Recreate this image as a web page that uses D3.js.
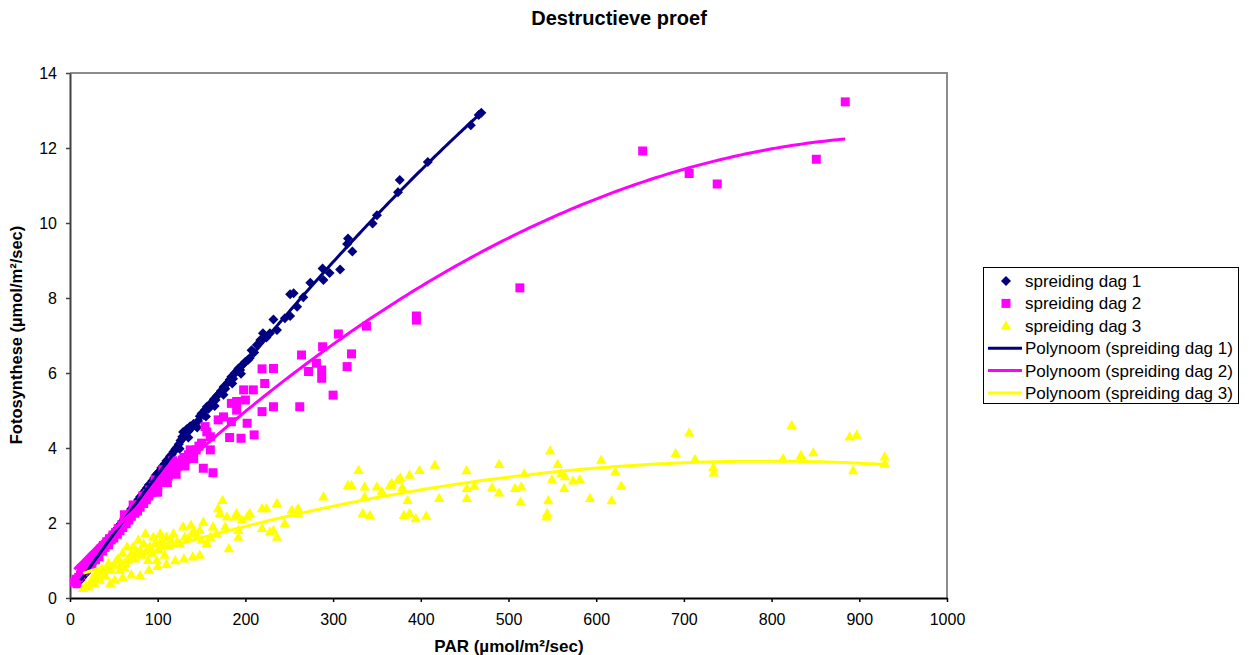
<!DOCTYPE html>
<html>
<head>
<meta charset="utf-8">
<script src="https://cdn.jsdelivr.net/npm/d3@7"></script>
<style>
  html, body { margin: 0; padding: 0; background: #ffffff; }
  svg { display: block; font-family: "Liberation Sans", Arial, sans-serif; }
</style>
</head>
<body>
<svg id="chart" width="1249" height="655"></svg>
<script>
// PAR (x) and photosynthesis (y) measurements per day
const dag1 = [
  [12,0.48],[14,0.55],[16,0.62],[18,0.66],[20,0.74],[22,0.80],[24,0.88],[26,0.93],[28,1.00],[30,1.08],
  [32,1.12],[34,1.20],[36,1.27],[38,1.33],[40,1.40],[42,1.47],[44,1.55],[46,1.60],[48,1.66],[50,1.74],
  [52,1.80],[54,1.86],[56,1.93],[58,1.98],[60,2.05],[62,2.12],[64,2.17],[66,2.25],[68,2.30],[70,2.38],
  [72,2.43],[74,2.50],[76,2.55],[78,2.63],[80,2.70],[82,2.74],[84,2.82],[86,2.88],[88,2.95],[90,3.02],
  [92,3.05],[94,3.13],[96,3.20],[98,3.28],[100,3.33],[102,3.38],[104,3.47],[106,3.52],[108,3.58],[110,3.66],
  [112,3.70],[114,3.78],[116,3.83],[118,3.90],[120,3.97],[122,4.02],[124,4.10],[126,4.20],[128,4.30],[129,4.43],
  [131,4.36],[133,4.50],[135,4.45],[137,4.58],[139,4.55],[141,4.65],[143,4.60],[146,4.72],[148,4.85],[150,4.92],
  [152,4.88],[154,5.02],[156,5.10],[158,5.05],[160,5.18],[162,5.22],[164,5.30],[166,5.28],[168,5.40],[170,5.45],
  [172,5.52],[175,5.63],[177,5.58],[180,5.75],[182,5.82],[184,5.90],[186,5.85],[188,6.00],[190,6.05],[192,6.12],
  [194,6.08],[196,6.20],[198,6.25],[200,6.30],[203,6.35],[205,6.40],[207,6.61],[210,6.55],[213,6.75],[217,6.88],
  [220,7.06],[224,6.95],[228,7.06],[232,7.43],[236,7.15],[245,7.46],[251,7.52],[251,8.10],[255,8.13],[259,7.77],
  [266,8.02],[274,8.41],[288,8.79],[289,8.48],[296,8.67],[308,8.76],[316,9.44],[317,9.59],[322,9.24],[345,9.99],
  [350,10.21],[374,10.82],[376,11.15],[408,11.63],[457,12.61],[466,12.88],[469,12.94],
  [105,3.32],[115,3.64],[125,3.98],[135,4.28],[145,4.55],[155,4.84],[165,5.12],[175,5.42],[185,5.72],[195,5.98]
];

const dag2 = [
  [5,0.42],[7,0.50],[8,0.38],[10,0.55],[12,0.62],[13,0.78],[15,0.70],[17,0.85],[18,0.75],[20,0.92],
  [22,0.85],[24,1.00],[25,0.92],[27,1.08],[29,1.02],[30,1.15],[32,1.22],[33,1.10],[35,1.30],[37,1.25],
  [38,1.40],[40,1.35],[42,1.50],[44,1.42],[45,1.58],[47,1.55],[49,1.68],[50,1.60],[52,1.75],[54,1.70],
  [55,1.85],[57,1.80],[59,1.95],[60,1.88],[62,2.05],[64,1.98],[65,2.15],[67,2.08],[69,2.25],[70,2.18],
  [72,2.32],[74,2.26],[76,2.40],[77,2.32],[79,2.50],[80,2.42],[82,2.58],[84,2.52],[85,2.68],[87,2.62],
  [88,2.78],[90,2.72],[91,2.88],[93,2.82],[95,2.98],[96,2.90],[98,3.05],[100,2.98],[101,3.12],[103,3.08],
  [105,3.20],[107,3.15],[109,3.30],[110,3.41],[112,3.25],[114,3.38],[116,3.48],[118,3.42],[120,3.55],[122,3.50],
  [124,3.62],[126,3.58],[128,3.68],[130,3.75],[132,3.70],[135,3.82],[137,3.95],[140,3.88],[144,3.95],[147,4.05],
  [150,4.13],[152,3.46],[154,4.57],[156,4.43],[160,4.30],[160,3.95],[163,3.34],[169,4.75],[175,4.83],[182,4.28],
  [184,4.70],[184,5.19],[190,5.01],[190,5.24],[195,4.26],[198,5.55],[200,5.28],[202,4.66],[209,5.55],[210,4.35],
  [219,4.97],[219,6.11],[222,5.72],[232,5.10],[232,6.12],[262,5.10],[264,6.48],[272,6.04],[281,6.26],[287,6.08],
  [287,5.86],[288,6.70],[300,5.41],[306,7.04],[316,6.17],[321,6.51],[338,7.25],[395,7.52],[395,7.41],[513,8.27],
  [653,11.92],[706,11.32],[738,11.04],[851,11.70],[884,13.23],
  [62,2.22],[72,2.48],[83,2.72],[97,3.15],[106,3.42],[117,3.66],[100,2.82],[111,3.08],[121,3.30],[131,3.52],[141,3.72]
];

const dag3 = [
  [15,0.26],[18,0.35],[21,0.30],[24,0.45],[26,0.55],[28,0.39],[30,0.66],[32,0.58],[34,0.48],[36,0.79],
  [38,0.70],[40,0.61],[42,0.82],[44,0.93],[46,0.39],[47,0.75],[50,0.88],[51,0.48],[53,1.01],[55,1.05],
  [57,0.75],[58,0.90],[60,1.20],[60,0.55],[62,0.80],[63,0.93],[65,1.37],[66,1.00],[68,1.10],[70,1.18],
  [70,0.62],[72,1.37],[74,1.05],[76,1.25],[78,1.55],[80,1.28],[80,0.60],[82,1.15],[84,1.45],[86,1.72],
  [88,1.30],[89,1.01],[90,0.75],[91,1.37],[93,1.20],[95,1.63],[97,1.45],[99,1.01],[100,0.85],[101,1.30],
  [103,1.72],[104,1.55],[106,1.46],[108,1.15],[110,1.63],[110,0.90],[112,1.40],[115,1.55],[118,1.72],[120,1.00],
  [122,1.50],[125,1.45],[129,1.90],[130,1.05],[131,1.63],[135,1.60],[138,1.95],[140,1.10],[141,1.81],[141,1.72],
  [145,1.65],[148,1.81],[148,1.15],[150,1.55],[152,2.03],[156,1.46],[160,1.62],[163,1.90],[167,1.72],[169,2.39],
  [171,2.26],[174,2.61],[177,1.90],[179,2.17],[181,1.32],[188,2.17],[190,2.26],[192,1.81],[192,1.63],[196,2.08],
  [202,2.17],[205,2.26],[219,2.39],[219,1.86],[224,2.39],[228,1.77],[232,1.81],[236,2.53],[236,1.63],[245,1.99],
  [253,2.35],[260,2.39],[260,2.26],[289,2.70],[317,3.01],[321,3.01],[329,3.41],[334,2.26],[336,2.97],[336,2.70],
  [342,2.21],[350,2.97],[355.5,2.84],[365,3.01],[366.9,3.06],[374,3.15],[376.6,3.21],[378.8,2.95],[380.8,2.21],[385,2.61],
  [387.2,3.28],[387.2,2.26],[394.4,2.12],[398.6,3.41],[406.2,2.19],[416,3.55],[421,2.66],[452.2,3.40],[452.5,2.93],[452.5,2.66],
  [461,2.99],[481.3,2.94],[489.3,3.57],[489.3,2.81],[507.4,2.93],[513.8,2.57],[514.6,2.97],[518,3.32],[543.3,2.17],[544.1,2.26],
  [545.4,2.60],[547.5,3.93],[549.6,3.16],[556,3.57],[560.2,3.32],[563.5,2.93],[564.4,3.24],[573.7,3.13],[581.3,3.16],[593,2.66],
  [605.7,3.68],[617.5,2.60],[621.8,3.37],[628.5,2.99],[690.6,3.86],[706,4.41],[712.7,3.70],[733.5,3.48],[734,3.34],[813,3.72],
  [823,4.61],[833.5,3.81],[847.6,3.88],[889,4.30],[897,4.35],[893,3.40],[929,3.77],[929,3.59]
];

// second-order polynomial trendline coefficients [c0, c1, c2]
const trend1 = [0.067, 0.033534, -1.2977e-5];
const trend2 = [0.644, 0.02415, -1.248e-5];
const trend3 = [0.541, 0.00783, -4.93e-6];

const xTicks = [0, 100, 200, 300, 400, 500, 600, 700, 800, 900, 1000];
const yTicks = [0, 2, 4, 6, 8, 10, 12, 14];

const legendLabels = [
  "spreiding dag 1", "spreiding dag 2", "spreiding dag 3",
  "Polynoom (spreiding dag 1)", "Polynoom (spreiding dag 2)", "Polynoom (spreiding dag 3)"
];

const navy = "#000080", magenta = "#FF00FF", yellow = "#FFFF00";

const svg = d3.select("#chart");
const plotLeft = 70, plotRight = 947, plotTop = 73, plotBottom = 598;

const x = d3.scaleLinear().domain([0, 1000]).range([plotLeft, plotRight]);
const y = d3.scaleLinear().domain([0, 14]).range([plotBottom, plotTop]);

// plot frame (top and right edges)
svg.append("path")
  .attr("d", `M${plotLeft},${plotTop}H${plotRight}V${plotBottom}`)
  .attr("fill", "none").attr("stroke", "#8c8c8c").attr("stroke-width", 2);

// axes
const xAxis = svg.append("g").attr("transform", `translate(0,${plotBottom})`)
  .call(d3.axisBottom(x).tickValues(xTicks).tickFormat(d3.format("d"))
    .tickSize(4).tickSizeOuter(0).tickPadding(12));
xAxis.select(".domain").attr("stroke", "#000").attr("stroke-width", 2);
xAxis.selectAll(".tick line").attr("stroke", "#000").attr("stroke-width", 1.5);
xAxis.selectAll(".tick text").attr("font-size", 16).attr("font-family", "Liberation Sans, Arial").attr("fill", "#000");

const yAxis = svg.append("g").attr("transform", `translate(${plotLeft},0)`)
  .call(d3.axisLeft(y).tickValues(yTicks).tickFormat(d3.format("d"))
    .tickSize(4).tickSizeOuter(0).tickPadding(9));
yAxis.select(".domain").attr("stroke", "#404040").attr("stroke-width", 2);
yAxis.selectAll(".tick line").attr("stroke", "#404040").attr("stroke-width", 1.5);
yAxis.selectAll(".tick text").attr("font-size", 16).attr("font-family", "Liberation Sans, Arial").attr("fill", "#000");

// marker shapes
const diamond = "M0,-5L5,0L0,5L-5,0Z";
const square = "M-4.5,-4.5H4.5V4.5H-4.5Z";
const triangle = "M0,-5.5L5.2,3.8H-5.2Z";

function drawMarkers(data, shape, color) {
  svg.append("g").selectAll("path").data(data).join("path")
    .attr("d", shape)
    .attr("transform", d => `translate(${x(d[0])},${y(d[1])})`)
    .attr("fill", color);
}
drawMarkers(dag1, diamond, navy);
drawMarkers(dag2, square, magenta);
drawMarkers(dag3, triangle, yellow);

// trendlines over the range of each day's PAR values
function drawTrend(data, coef, color) {
  const [x0, x1] = d3.extent(data, d => d[0]);
  const pts = d3.range(0, 201).map(i => {
    const v = x0 + (x1 - x0) * i / 200;
    return [v, coef[0] + coef[1] * v + coef[2] * v * v];
  });
  svg.append("path")
    .datum(pts)
    .attr("d", d3.line().x(d => x(d[0])).y(d => y(d[1])))
    .attr("fill", "none").attr("stroke", color).attr("stroke-width", 3);
}
drawTrend(dag1, trend1, navy);
drawTrend(dag2, trend2, magenta);
drawTrend(dag3, trend3, yellow);

// title and axis titles
svg.append("text").attr("x", 619).attr("y", 25).attr("text-anchor", "middle")
  .attr("font-size", 20).attr("font-weight", "bold").text("Destructieve proef");
svg.append("text").attr("x", 509).attr("y", 652).attr("text-anchor", "middle")
  .attr("font-size", 17).attr("font-weight", "bold").text("PAR (µmol/m²/sec)");
svg.append("text").attr("transform", "translate(22,335) rotate(-90)").attr("text-anchor", "middle")
  .attr("font-size", 16.5).attr("font-weight", "bold").text("Fotosynthese (µmol/m²/sec)");

// legend
const lg = svg.append("g");
lg.append("rect").attr("x", 983.5).attr("y", 267.5).attr("width", 255).attr("height", 136)
  .attr("fill", "#fff").attr("stroke", "#000").attr("stroke-width", 1);
const legendItems = [
  { kind: "marker", shape: diamond, color: navy },
  { kind: "marker", shape: square, color: magenta },
  { kind: "marker", shape: triangle, color: yellow },
  { kind: "line", color: navy },
  { kind: "line", color: magenta },
  { kind: "line", color: yellow }
];
legendItems.forEach((it, i) => {
  const cy = 281 + i * 22.4;
  if (it.kind === "marker") {
    lg.append("path").attr("d", it.shape).attr("transform", `translate(1006,${cy})`).attr("fill", it.color);
  } else {
    lg.append("line").attr("x1", 988).attr("x2", 1022).attr("y1", cy).attr("y2", cy)
      .attr("stroke", it.color).attr("stroke-width", 3);
  }
  lg.append("text").attr("x", 1025).attr("y", cy + 6).attr("font-size", 17).text(legendLabels[i]);
});
</script>
</body>
</html>
